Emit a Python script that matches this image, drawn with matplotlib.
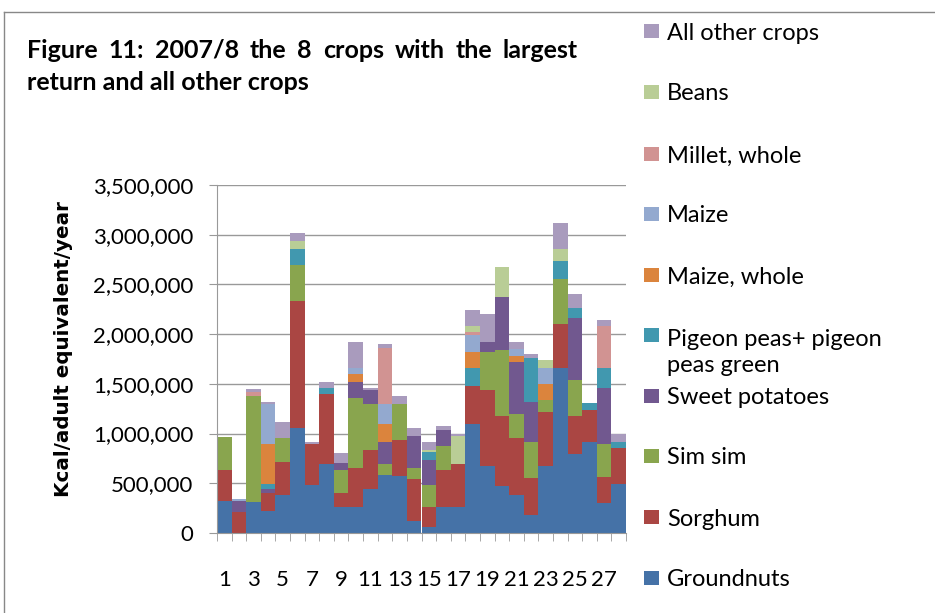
import matplotlib
matplotlib.use("Agg")
import matplotlib.pyplot as plt
from matplotlib.patches import Rectangle
from matplotlib.lines import Line2D
from matplotlib.ticker import FuncFormatter, FixedLocator

# households 1..28, values in thousand kcal/adult equivalent/year
households = list(range(1, 29))
groundnuts = [320, 0, 312, 218, 379, 1057, 480, 695, 258, 258, 440, 581, 574, 117, 57, 258, 258, 1094, 671, 470, 379, 178, 671, 1658, 792, 913, 299, 490]
sorghum = [310, 211, 0, 181, 332, 1275, 413, 701, 141, 393, 392, 0, 359, 423, 201, 373, 433, 383, 765, 705, 574, 372, 544, 443, 383, 322, 261, 362]
sim_sim = [340, 0, 1067, 0, 242, 363, 0, 0, 232, 705, 463, 110, 362, 111, 222, 242, 0, 0, 383, 664, 242, 363, 121, 453, 362, 0, 333, 0]
sweet_potatoes = [0, 108, 0, 41, 0, 0, 0, 0, 70, 161, 141, 222, 0, 322, 252, 161, 0, 0, 101, 534, 523, 403, 0, 0, 624, 0, 564, 0]
pigeon_peas = [0, 0, 0, 53, 0, 161, 0, 60, 0, 0, 0, 0, 0, 0, 80, 0, 0, 181, 0, 0, 0, 443, 0, 181, 101, 70, 201, 61]
maize_whole = [0, 0, 0, 403, 0, 0, 0, 0, 0, 80, 0, 181, 0, 0, 0, 0, 0, 161, 0, 0, 60, 0, 161, 0, 0, 0, 0, 0]
maize = [0, 20, 0, 399, 0, 0, 0, 0, 0, 61, 0, 201, 0, 0, 0, 0, 0, 168, 0, 0, 71, 0, 161, 0, 0, 0, 0, 0]
millet = [0, 0, 41, 0, 0, 0, 0, 0, 0, 0, 0, 568, 0, 0, 0, 0, 0, 33, 0, 0, 0, 0, 0, 0, 0, 0, 423, 0]
beans = [0, 0, 0, 0, 0, 80, 0, 0, 0, 0, 0, 0, 0, 0, 20, 0, 282, 61, 0, 302, 0, 0, 80, 121, 0, 0, 0, 0]
all_other = [0, 0, 26, 20, 161, 81, 20, 61, 101, 262, 20, 36, 81, 81, 81, 40, 20, 161, 282, 0, 71, 40, 0, 262, 141, 0, 60, 80]

series = [groundnuts, sorghum, sim_sim, sweet_potatoes, pigeon_peas,
          maize_whole, maize, millet, beans, all_other]
names = ["Groundnuts", "Sorghum", "Sim sim", "Sweet potatoes",
         "Pigeon peas+ pigeon\npeas green", "Maize, whole", "Maize",
         "Millet, whole", "Beans", "All other crops"]
colors = ["#4572A7", "#AA4643", "#89A54E", "#71588F", "#4198AF",
          "#DB843D", "#93A9CF", "#D19392", "#B9CD96", "#A99BBD"]
title1 = "Figure 11: 2007/8 the 8 crops with the largest"
title2 = "return and all other crops"

W, H = 935, 613
fig = plt.figure(figsize=(W / 100, H / 100), dpi=100)
ax = fig.add_axes([217 / W, 1 - 533 / H, (626 - 217) / W, (533 - 185) / H])

bottom = [0] * len(households)
for vals, name, col in zip(series, names, colors):
    v = [x * 1000 for x in vals]
    ax.bar(households, v, width=1.0, bottom=bottom, color=col, linewidth=0, label=name)
    bottom = [b + x for b, x in zip(bottom, v)]

ax.set_xlim(0.5, 28.5)
ax.set_ylim(0, 3500000)
ax.set_yticks(range(0, 3500001, 500000))
ax.yaxis.set_major_formatter(FuncFormatter(lambda x, p: f"{int(x):,}"))
ax.set_xticks(households[::2])
ax.xaxis.set_minor_locator(FixedLocator([i + 0.5 for i in range(0, 29)]))
ax.tick_params(axis="x", which="major", length=0, pad=27, labelsize=16)
ax.tick_params(axis="x", which="minor", length=6, color="#999999")
ax.tick_params(axis="y", length=6, color="#999999", pad=11, labelsize=16)
for lab in ax.get_xticklabels() + ax.get_yticklabels():
    lab.set_family("Lato")
ax.grid(axis="y", color="#999999", linewidth=1)
ax.set_axisbelow(True)
for s in ["top", "right"]:
    ax.spines[s].set_visible(False)
ax.spines["left"].set_color("#999999")
ax.spines["bottom"].set_color("#999999")

fig.text(64 / W, 1 - 349 / H, "Kcal/adult equivalent/year", rotation=90,
         ha="center", va="center", fontsize=14.3, fontweight="bold", family="DejaVu Sans")

# title, first line justified between x=27 and x=578 like the original
renderer = fig.canvas.get_renderer()
words = title1.split(" ")
tws = [fig.text(0, 1 - 50 / H, w, ha="left", va="center", fontsize=18,
                fontweight="bold", family="Lato") for w in words]
widths = [t.get_window_extent(renderer).width for t in tws]
gap = (578 - 27 - sum(widths)) / (len(words) - 1)
x = 27
for t, w in zip(tws, widths):
    t.set_x(x / W)
    x += w + gap
fig.text(27 / W, 1 - 82 / H, title2, ha="left", va="center", fontsize=18,
         fontweight="bold", family="Lato")

# legend, drawn in figure pixels, top entry = last series
centers = [578, 517, 456, 396, 335, 275, 214, 154, 92, 31]
for name, col, yc in zip(names, colors, centers):
    fig.add_artist(Rectangle((644 / W, 1 - (yc + 7) / H), 15 / W, 14 / H,
                             transform=fig.transFigure, color=col, lw=0))
    nl = name.count("\n")
    fig.text(667 / W, 1 - (yc + 2 + nl * 15.5) / H, name, ha="left", va="center",
             fontsize=17, family="Lato", linespacing=1.25)

# outer chart frame
fig.add_artist(Line2D([4 / W, 1], [1 - 12 / H, 1 - 12 / H], transform=fig.transFigure, color="#888888", lw=1))
fig.add_artist(Line2D([4 / W, 4 / W], [0, 1 - 12 / H], transform=fig.transFigure, color="#888888", lw=1))

fig.savefig("out.png", dpi=100)
